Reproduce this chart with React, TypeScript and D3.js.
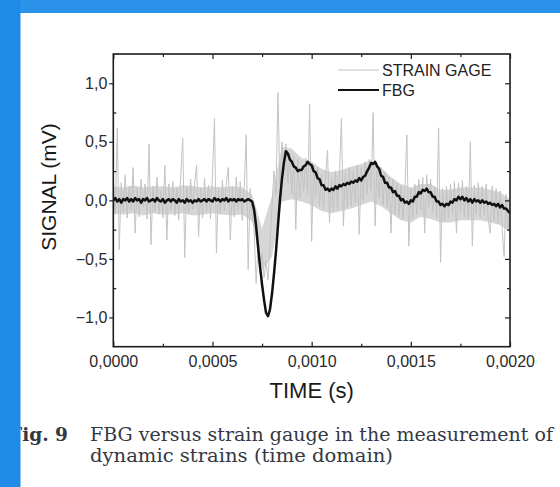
import React, { useEffect, useRef } from "react";
import * as d3 from "d3";

// ---- data ----
const TIME_STEP = 0.00001; // seconds between samples, first sample at t = 0
const ENVELOPE_STEP = 0.00005; // seconds between envelope samples of the strain gage band

const fbgSignal = [
  0.00, 0.02, -0.01, 0.01, -0.02, 0.01, 0.00, 0.02, -0.01, 0.01,
  -0.01, 0.02, 0.00, 0.01, -0.02, 0.01, 0.00, 0.02, -0.01, 0.00,
  0.01, -0.01, 0.02, 0.00, -0.01, 0.01, -0.02, 0.00, 0.01, -0.01,
  0.01, 0.00, -0.02, 0.01, -0.01, 0.00, -0.02, 0.01, -0.01, 0.00,
  -0.02, 0.00, -0.01, 0.01, -0.01, 0.00, 0.01, -0.01, 0.01, 0.00,
  -0.01, 0.02, 0.00, 0.01, -0.01, 0.01, 0.00, 0.02, -0.01, 0.01,
  0.00, 0.01, -0.01, 0.01, 0.00, 0.01, -0.01, 0.00, 0.01, 0.00,
  -0.01, -0.08, -0.22, -0.40, -0.57, -0.72, -0.85, -0.96, -0.99, -0.93,
  -0.80, -0.63, -0.44, -0.22, 0.00, 0.18, 0.32, 0.42, 0.40, 0.35,
  0.33, 0.29, 0.28, 0.25, 0.26, 0.26, 0.29, 0.30, 0.33, 0.31,
  0.30, 0.25, 0.24, 0.19, 0.18, 0.13, 0.13, 0.09, 0.10, 0.08,
  0.10, 0.09, 0.12, 0.10, 0.13, 0.12, 0.14, 0.13, 0.15, 0.14,
  0.16, 0.15, 0.17, 0.16, 0.19, 0.17, 0.20, 0.21, 0.25, 0.28,
  0.32, 0.31, 0.33, 0.29, 0.27, 0.21, 0.20, 0.15, 0.15, 0.11,
  0.11, 0.07, 0.08, 0.04, 0.04, 0.00, 0.01, -0.02, -0.01, -0.03,
  0.00, -0.01, 0.03, 0.03, 0.07, 0.06, 0.09, 0.08, 0.10, 0.07,
  0.07, 0.03, 0.03, -0.01, -0.01, -0.04, -0.03, -0.05, -0.03, -0.04,
  -0.01, -0.02, 0.01, 0.00, 0.03, 0.01, 0.03, 0.00, 0.02, -0.01,
  0.01, -0.02, 0.01, -0.01, 0.00, -0.02, 0.00, -0.02, -0.01, -0.03,
  -0.02, -0.04, -0.03, -0.05, -0.03, -0.06, -0.04, -0.07, -0.07, -0.09,
  -0.11,
];

const strainSignal = [
  0.10, -0.12, 0.62, -0.42, 0.15, -0.10, 0.22, -0.15, 0.12, -0.08,
  0.28, -0.28, 0.10, -0.14, 0.18, -0.06, 0.14, -0.16, 0.48, -0.38,
  0.12, -0.10, 0.20, -0.12, 0.08, -0.15, 0.30, -0.34, 0.14, -0.09,
  0.16, -0.13, 0.10, -0.17, 0.21, 0.53, -0.49, 0.12, -0.11, 0.18,
  -0.08, 0.14, 0.30, -0.31, 0.11, -0.15, 0.19, -0.10, 0.13, -0.16,
  0.22, 0.70, -0.45, 0.10, -0.12, 0.17, -0.09, 0.15, 0.28, -0.34,
  0.12, -0.14, 0.20, -0.08, 0.16, -0.17, 0.11, 0.56, -0.59, 0.10,
  -0.12, -0.25, -0.71, -0.40, -0.62, -0.45, -0.66, -0.52, -0.68, -0.35,
  -0.05, 0.25, 0.05, 0.92, 0.12, 0.50, 0.22, 0.48, 0.15, 0.40,
  0.05, 0.38, -0.25, 0.35, 0.02, 0.30, 0.08, 0.36, 0.05, 0.82,
  -0.35, 0.30, 0.02, 0.28, -0.05, 0.22, -0.08, 0.20, 0.43, -0.19,
  0.18, -0.10, 0.25, -0.08, 0.22, 0.70, -0.22, 0.24, -0.06, 0.28,
  -0.05, 0.25, -0.02, 0.30, -0.29, 0.28, 0.00, 0.33, 0.05, 0.35,
  0.08, 0.75, -0.22, 0.32, 0.02, 0.28, -0.04, 0.24, -0.06, 0.20,
  -0.28, 0.18, -0.12, 0.15, -0.14, 0.12, -0.16, 0.10, 0.56, -0.39,
  0.10, -0.15, 0.14, -0.12, 0.18, -0.08, 0.20, -0.28, 0.22, -0.06,
  0.18, -0.10, 0.12, -0.15, 0.62, -0.53, 0.10, -0.18, 0.12, -0.15,
  0.14, -0.12, 0.16, -0.28, 0.15, -0.10, 0.17, -0.14, 0.12, -0.16,
  0.50, -0.39, 0.13, -0.12, 0.15, -0.15, 0.12, -0.13, 0.14, -0.17,
  -0.28, 0.12, -0.18, 0.10, -0.20, 0.08, -0.22, -0.48, 0.05, -0.25,
  -0.10,
];

// dense part of the strain gage trace (upper / lower edge of the grey band)
const strainUpper = [
  0.12, 0.11, 0.13, 0.11, 0.12, 0.12, 0.11, 0.13, 0.12, 0.11,
  0.12, 0.11, 0.12, 0.11, 0.05, -0.24, 0.04, 0.46, 0.44, 0.36,
  0.33, 0.27, 0.24, 0.26, 0.29, 0.31, 0.34, 0.28, 0.20, 0.14,
  0.11, 0.14, 0.14, 0.09, 0.09, 0.11, 0.11, 0.11, 0.09, 0.07,
  0.01,
];
const strainLower = [
  -0.11, -0.12, -0.11, -0.13, -0.11, -0.12, -0.12, -0.11, -0.13, -0.12,
  -0.11, -0.12, -0.13, -0.12, -0.18, -0.60, -0.48, -0.01, 0.01, -0.01,
  -0.04, -0.09, -0.11, -0.09, -0.07, -0.04, -0.01, -0.05, -0.11, -0.17,
  -0.19, -0.14, -0.16, -0.19, -0.19, -0.17, -0.17, -0.17, -0.19, -0.21,
  -0.27,
];

const xDomain = [0, 0.002];
const yDomain = [-1.25, 1.25];
const xMajorTicks = [0, 0.0005, 0.001, 0.0015, 0.002];
const xMinorTicks = [0.00025, 0.00075, 0.00125, 0.00175];
const yMajorTicks = [-1, -0.5, 0, 0.5, 1];
const yMinorTicks = [-0.75, -0.25, 0.25, 0.75];
const legendLabels = ["STRAIN GAGE", "FBG"];
const xTitle = "TIME (s)";
const yTitle = "SIGNAL (mV)";
const captionLabel = "Fig. 9";
const captionLines = [
  "FBG versus strain gauge in the measurement of",
  "dynamic strains (time domain)",
];

// ---- layout ----
const W = 560;
const H = 487;
const PLOT = { left: 113.3, right: 510, top: 54, bottom: 346.7 };
const SANS = "'Liberation Sans', Arial, Helvetica, sans-serif";
const SERIF = "'DejaVu Serif', 'Liberation Serif', serif";
const GRAY = "#c3c3c3";
const GRAY_BAND = "#d6d6d6";
const INK = "#1c1c1c";

export default function App() {
  const ref = useRef<SVGSVGElement>(null);

  useEffect(() => {
    const svg = d3.select(ref.current);
    svg.selectAll("*").remove();

    const x = d3.scaleLinear().domain(xDomain).range([PLOT.left, PLOT.right]);
    const y = d3.scaleLinear().domain(yDomain).range([PLOT.bottom, PLOT.top]);

    svg.append("rect").attr("width", W).attr("height", H).attr("fill", "#ffffff");

    svg
      .append("clipPath")
      .attr("id", "plot-clip")
      .append("rect")
      .attr("x", PLOT.left)
      .attr("y", PLOT.top)
      .attr("width", PLOT.right - PLOT.left)
      .attr("height", PLOT.bottom - PLOT.top);

    const line = d3
      .line<number>()
      .x((_, i) => x(i * TIME_STEP))
      .y((d) => y(d));

    const band = d3
      .area<number>()
      .x((_, i) => x(i * ENVELOPE_STEP))
      .y0((_, i) => y(strainLower[i]))
      .y1((d) => y(d));

    const plot = svg.append("g").attr("clip-path", "url(#plot-clip)");
    plot.append("path").attr("d", band(strainUpper)).attr("fill", GRAY_BAND).attr("stroke", "none");
    plot
      .append("path")
      .attr("d", line(strainSignal))
      .attr("fill", "none")
      .attr("stroke", GRAY)
      .attr("stroke-width", 1)
      .attr("stroke-linejoin", "miter");
    plot
      .append("path")
      .attr("d", line(fbgSignal))
      .attr("fill", "none")
      .attr("stroke", "#111")
      .attr("stroke-width", 2.5)
      .attr("stroke-linejoin", "round");

    const fmtX = (d: any) => d3.format(".4f")(d).replace(".", ",");
    const fmtY = (d: any) => d3.format(".1f")(d).replace(".", ",");

    const styleAxis = (g: any) => {
      g.select(".domain").remove();
      g.selectAll("line").attr("stroke", INK).attr("stroke-width", 1.2);
      g.selectAll("text")
        .attr("fill", "#2a2a2a")
        .style("font-family", SANS)
        .style("font-size", "16px");
    };

    // bottom axis
    svg
      .append("g")
      .attr("transform", `translate(0,${PLOT.bottom})`)
      .call(
        d3.axisBottom(x).tickValues(xMajorTicks).tickSizeInner(-5).tickSizeOuter(0).tickPadding(9).tickFormat(fmtX)
      )
      .call(styleAxis);
    svg
      .append("g")
      .attr("transform", `translate(0,${PLOT.bottom})`)
      .call(d3.axisBottom(x).tickValues(xMinorTicks).tickSizeInner(-3).tickSizeOuter(0).tickFormat(() => ""))
      .call(styleAxis);
    // top axis
    svg
      .append("g")
      .attr("transform", `translate(0,${PLOT.top})`)
      .call(d3.axisTop(x).tickValues(xMajorTicks).tickSizeInner(-5).tickSizeOuter(0).tickFormat(() => ""))
      .call(styleAxis);
    svg
      .append("g")
      .attr("transform", `translate(0,${PLOT.top})`)
      .call(d3.axisTop(x).tickValues(xMinorTicks).tickSizeInner(-3).tickSizeOuter(0).tickFormat(() => ""))
      .call(styleAxis);
    // left axis
    svg
      .append("g")
      .attr("transform", `translate(${PLOT.left},0)`)
      .call(d3.axisLeft(y).tickValues(yMajorTicks).tickSizeInner(4).tickSizeOuter(0).tickPadding(2).tickFormat(fmtY))
      .call(styleAxis);
    svg
      .append("g")
      .attr("transform", `translate(${PLOT.left},0)`)
      .call(d3.axisLeft(y).tickValues(yMinorTicks).tickSizeInner(-3).tickSizeOuter(0).tickFormat(() => ""))
      .call(styleAxis);
    // right axis
    svg
      .append("g")
      .attr("transform", `translate(${PLOT.right},0)`)
      .call(d3.axisRight(y).tickValues(yMajorTicks).tickSizeInner(-5).tickSizeOuter(0).tickFormat(() => ""))
      .call(styleAxis);
    svg
      .append("g")
      .attr("transform", `translate(${PLOT.right},0)`)
      .call(d3.axisRight(y).tickValues(yMinorTicks).tickSizeInner(-3).tickSizeOuter(0).tickFormat(() => ""))
      .call(styleAxis);

    // frame
    svg
      .append("rect")
      .attr("x", PLOT.left)
      .attr("y", PLOT.top)
      .attr("width", PLOT.right - PLOT.left)
      .attr("height", PLOT.bottom - PLOT.top)
      .attr("fill", "none")
      .attr("stroke", INK)
      .attr("stroke-width", 1.6);

    // legend
    const legendColors = [GRAY, "#111"];
    const legendWidths = [1.2, 1.8];
    legendLabels.forEach((label, i) => {
      const ly = 70 + i * 20;
      svg
        .append("line")
        .attr("x1", 338)
        .attr("x2", 379)
        .attr("y1", ly)
        .attr("y2", ly)
        .attr("stroke", legendColors[i])
        .attr("stroke-width", legendWidths[i]);
      svg
        .append("text")
        .attr("x", 382)
        .attr("y", ly + 5.8)
        .attr("fill", "#222")
        .style("font-family", SANS)
        .style("font-size", "16px")
        .text(label);
    });

    // axis titles
    svg
      .append("text")
      .attr("x", 311.7)
      .attr("y", 398)
      .attr("text-anchor", "middle")
      .attr("fill", "#1a1a1a")
      .style("font-family", SANS)
      .style("font-size", "22px")
      .text(xTitle);
    svg
      .append("text")
      .attr("transform", "translate(56,187) rotate(-90)")
      .attr("text-anchor", "middle")
      .attr("fill", "#1a1a1a")
      .style("font-family", SANS)
      .style("font-size", "21px")
      .text(yTitle);

    // caption
    svg
      .append("text")
      .attr("x", 9)
      .attr("y", 441)
      .attr("textLength", 59)
      .attr("lengthAdjust", "spacingAndGlyphs")
      .attr("fill", "#343843")
      .style("font-family", SERIF)
      .style("font-weight", "bold")
      .style("font-size", "19px")
      .text(captionLabel);
    const captionLengths = [463, 303];
    captionLines.forEach((t, i) => {
      svg
        .append("text")
        .attr("x", 90)
        .attr("y", 441 + i * 21)
        .attr("textLength", captionLengths[i])
        .attr("lengthAdjust", "spacingAndGlyphs")
        .attr("fill", "#343843")
        .style("font-family", SERIF)
        .style("font-size", "19px")
        .text(t);
    });

    // blue window border of the screenshot
    svg.append("rect").attr("x", 0).attr("y", 0).attr("width", W).attr("height", 13).attr("fill", "#2a92e8");
    svg.append("rect").attr("x", 0).attr("y", 0).attr("width", 20.5).attr("height", H).attr("fill", "#1f8be6");
  }, []);

  return (
    <svg
      ref={ref}
      width={W}
      height={H}
      style={{ position: "absolute", left: 0, top: 0, display: "block" }}
    />
  );
}
